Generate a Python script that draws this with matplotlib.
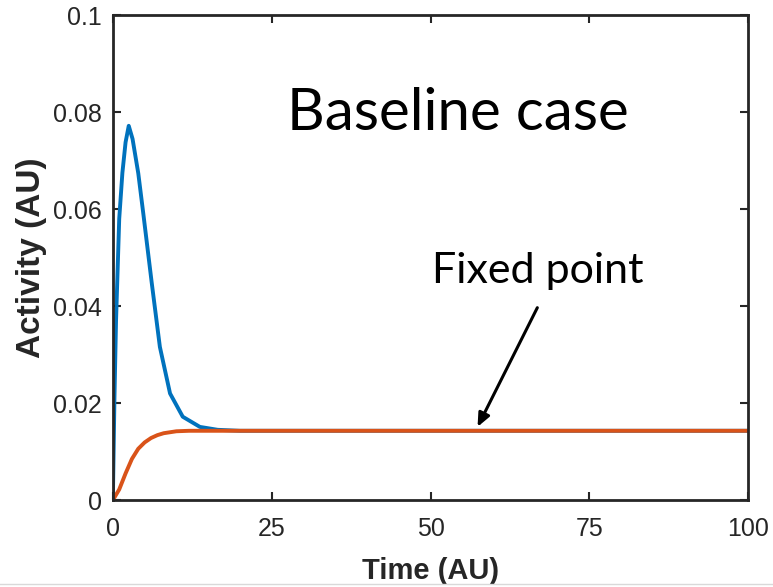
import matplotlib.pyplot as plt
from matplotlib.lines import Line2D

# blue transient
t_blue = [0, 0.25, 0.5, 1.0, 1.5, 2.0, 2.5, 3.1, 4.0, 4.8, 6.1, 7.4, 9.0, 11.0, 13.7, 16.5, 20, 30, 100]
y_blue = [0, 0.021, 0.037, 0.058, 0.0675, 0.0738, 0.0772, 0.0745, 0.0674, 0.059, 0.045, 0.0316,
          0.022, 0.0172, 0.0151, 0.0145, 0.0143, 0.0143, 0.0143]

# orange approach to the fixed point
t_orange = [0, 1, 2, 3, 4, 5, 6, 7, 8, 10, 12, 15, 20, 100]
y_orange = [0, 0.0022, 0.0055, 0.0085, 0.0106, 0.0119, 0.0128, 0.0134, 0.0138, 0.0142, 0.0143,
            0.0143, 0.0143, 0.0143]

xticks = [0, 25, 50, 75, 100]
yticks = [0, 0.02, 0.04, 0.06, 0.08, 0.1]
ytick_labels = ['0', '0.02', '0.04', '0.06', '0.08', '0.1']

plt.rcParams['font.family'] = ['Liberation Sans', 'DejaVu Sans']

fig = plt.figure(figsize=(7.73, 5.87), dpi=100)
ax = fig.add_axes([0.146, 0.148, 0.822, 0.826])

ax.plot(t_blue, y_blue, color='#0072BD', linewidth=2.8, solid_joinstyle='round')
ax.plot(t_orange, y_orange, color='#D95319', linewidth=2.8, solid_joinstyle='round')

ax.set_xlim(0, 100)
ax.set_ylim(0, 0.1)
ax.set_xticks(xticks)
ax.set_yticks(yticks)
ax.set_yticklabels(ytick_labels)
ax.tick_params(direction='in', length=6, width=1.5, top=True, right=True,
               labelsize=18, colors='#262626')
ax.tick_params(axis='x', pad=12)
ax.tick_params(axis='y', pad=8)
for s in ax.spines.values():
    s.set_linewidth(2)
    s.set_color('#262626')

ax.set_xlabel('Time (AU)', fontsize=21, fontweight='bold', color='#262626', labelpad=12)
ax.set_ylabel('Activity (AU)', fontsize=24, fontweight='bold', color='#262626', labelpad=4)

ax.text(0.543, 0.763, 'Baseline case', transform=ax.transAxes, ha='center', va='baseline',
        fontsize=42, family=['Lato', 'DejaVu Sans'], color='black')
ax.text(0.668, 0.447, 'Fixed point', transform=ax.transAxes, ha='center', va='baseline',
        fontsize=31, family=['Lato', 'DejaVu Sans'], color='black')
ax.annotate('', xy=(57.2, 0.0146), xytext=(67, 0.0402),
            arrowprops=dict(arrowstyle='-|>,head_length=0.8,head_width=0.35', color='black', lw=2.2))

fig.add_artist(Line2D([0, 1], [0.005, 0.005], transform=fig.transFigure, color='#d9d9d9', lw=1))

plt.savefig('out.png', dpi=100)
